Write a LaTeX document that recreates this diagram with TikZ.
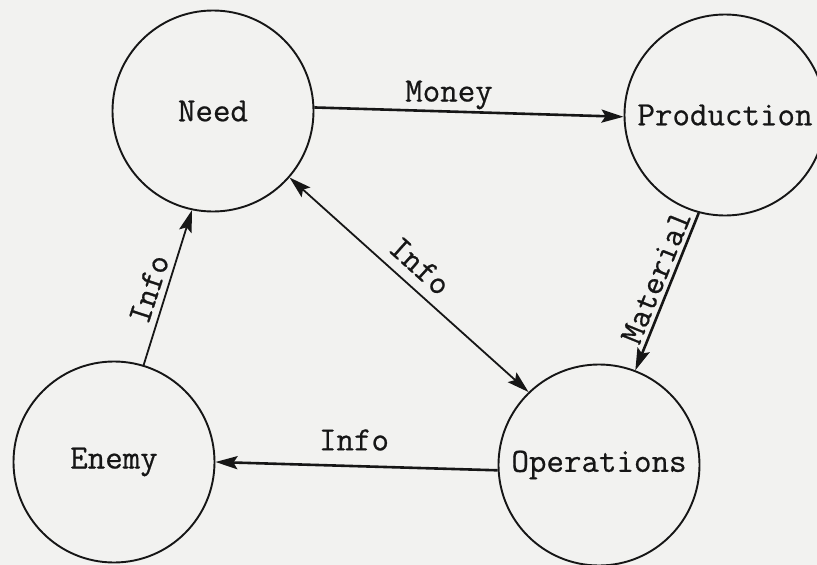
\documentclass[tikz,border=0pt]{standalone}
\usepackage{fontspec}
\usetikzlibrary{arrows.meta}

% typewriter face, slightly thickened
\newfontfamily\twfont[FakeBold=0.6]{Latin Modern Mono}

\definecolor{paper}{RGB}{242,242,240}
\definecolor{ink}{RGB}{22,22,22}

\tikzset{
  tw/.style={font=\fontsize{34}{39}\selectfont\twfont, text=ink},
  stock/.style={circle, draw=ink, line width=1.9pt, minimum size=201pt,
                inner sep=0pt, tw},
  tip/.tip={Stealth[length=22pt, width=13pt, inset=4pt]},
  flow/.style={draw=ink, line width=1.8pt, -tip},
  heavy/.style={flow, line width=2.6pt},
  twoway/.style={draw=ink, line width=1.8pt, tip-tip},
  lbl/.style={tw, inner sep=0pt},
}

\begin{document}
\begin{tikzpicture}[x=1pt, y=-1pt]
  % paper and page frame
  \fill[paper] (0,0) rectangle (817,565);
  \useasboundingbox (0,0) rectangle (817,565);

  % the four stocks
  \node[stock] (need) at (213,111) {Need};
  \node[stock] (prod) at (725,115) {Production};
  \node[stock] (enemy) at (114,462) {Enemy};
  \node[stock] (ops) at (599,465) {Operations};

  % flows between them
  \draw[heavy] (need.2) -- (prod.181);
  \draw[heavy] (prod.255) -- (ops.69);
  \draw[flow] (enemy.73) -- (need.258);
  \draw[twoway] (need.319) -- (ops.134);
  \draw[heavy] (ops.183) -- (enemy.0);

  % flow labels
  \node[lbl] (money) at (449,95) {Money};
  \node[lbl, rotate=68] (material) at (656,277) {Material};
  \node[lbl, rotate=72] (infoup) at (149,289) {Info};
  \node[lbl, rotate=-42] (infodiag) at (420,266) {Info};
  \node[lbl] (infoback) at (354,440) {Info};
\end{tikzpicture}
\end{document}
